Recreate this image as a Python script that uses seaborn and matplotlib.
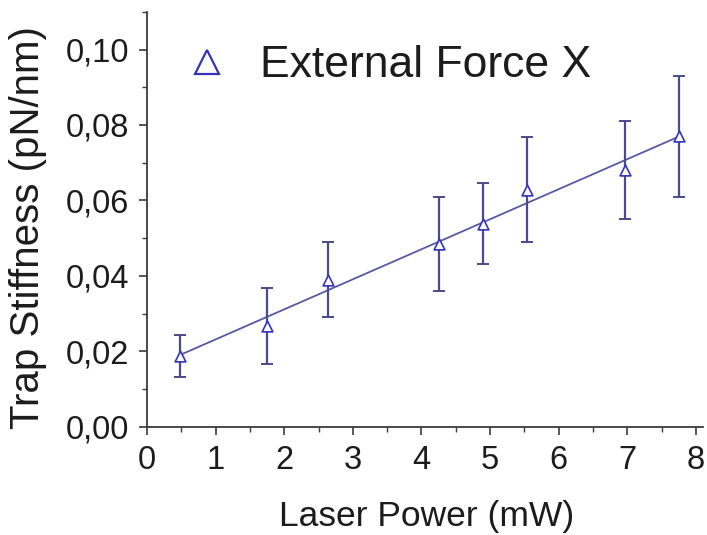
import matplotlib
matplotlib.use("Agg")
import matplotlib.pyplot as plt
from matplotlib.lines import Line2D
from matplotlib.ticker import MultipleLocator
import numpy as np
import pandas as pd
import seaborn as sns

# Trap stiffness measured with an external force along X
laser_power = [0.48, 1.75, 2.64, 4.26, 4.90, 5.54, 6.97, 7.76]            # mW
stiffness = [0.0188, 0.0267, 0.0390, 0.0485, 0.0539, 0.0629, 0.0681, 0.0770]  # pN/nm
stiffness_err = [0.0055, 0.0100, 0.0100, 0.0124, 0.0106, 0.0140, 0.0130, 0.0160]

x_ticks = [0, 1, 2, 3, 4, 5, 6, 7, 8]
y_ticks = [0.00, 0.02, 0.04, 0.06, 0.08, 0.10]
y_tick_labels = ["0,00", "0,02", "0,04", "0,06", "0,08", "0,10"]
series_label = "External Force X"

df = pd.DataFrame({"power": laser_power, "k": stiffness, "err": stiffness_err})

sns.set_theme(style="ticks")
plt.rcParams["font.family"] = ["Liberation Sans", "DejaVu Sans"]

text_color = "#1c1c1c"
spine_color = "#3a3a3a"
marker_color = "#3333bb"
bar_color = "#4a4a8e"
fit_color = "#5858a4"

fig = plt.figure(figsize=(7.07, 5.35), dpi=100)
ax = fig.add_axes([0.208, 0.202, 0.786, 0.776])

# linear fit over the measured range
sns.regplot(data=df, x="power", y="k", ax=ax, scatter=False, ci=None,
            truncate=True, line_kws={"color": fit_color, "lw": 1.3})

ax.errorbar(df["power"], df["k"], yerr=df["err"], fmt="none",
            ecolor=bar_color, elinewidth=1.6, capsize=4, capthick=1.4, zorder=3)

sns.scatterplot(data=df, x="power", y="k", ax=ax, marker="^", s=60,
                facecolor="white", edgecolor=marker_color, linewidth=1.2,
                zorder=4, legend=False)

ax.set_xlim(0, 8.1)
ax.set_ylim(0, 0.110)
ax.set_xticks(x_ticks)
ax.set_xticklabels([str(t) for t in x_ticks])
ax.set_yticks(y_ticks)
ax.set_yticklabels(y_tick_labels)
ax.xaxis.set_minor_locator(MultipleLocator(0.5))
ax.yaxis.set_minor_locator(MultipleLocator(0.01))

ax.tick_params(axis="both", which="major", direction="out", length=6, width=1.2,
               colors=spine_color, labelcolor=text_color, labelsize=23.5, pad=7)
ax.tick_params(axis="both", which="minor", direction="out", length=3.5, width=1.0,
               colors=spine_color)

for side in ("top", "right"):
    ax.spines[side].set_visible(False)
for side in ("left", "bottom"):
    ax.spines[side].set_color(spine_color)
    ax.spines[side].set_linewidth(1.3)

ax.set_xlabel("Laser Power (mW)", fontsize=25.5, color=text_color)
ax.set_ylabel("Trap Stiffness (pN/nm)", fontsize=29, color=text_color)
ax.xaxis.set_label_coords(0.503, -0.176)
ax.yaxis.set_label_coords(-0.180, 0.481)

handle = Line2D([], [], linestyle="none", marker="^", markersize=17,
                markerfacecolor="white", markeredgecolor=marker_color,
                markeredgewidth=1.6)
ax.legend([handle], [series_label], loc="center left", bbox_to_anchor=(0.068, 0.870),
          frameon=False, fontsize=32, handlelength=1.0, handletextpad=0.7,
          borderpad=0, borderaxespad=0, labelcolor=text_color)

fig.savefig("out.png", dpi=100)
